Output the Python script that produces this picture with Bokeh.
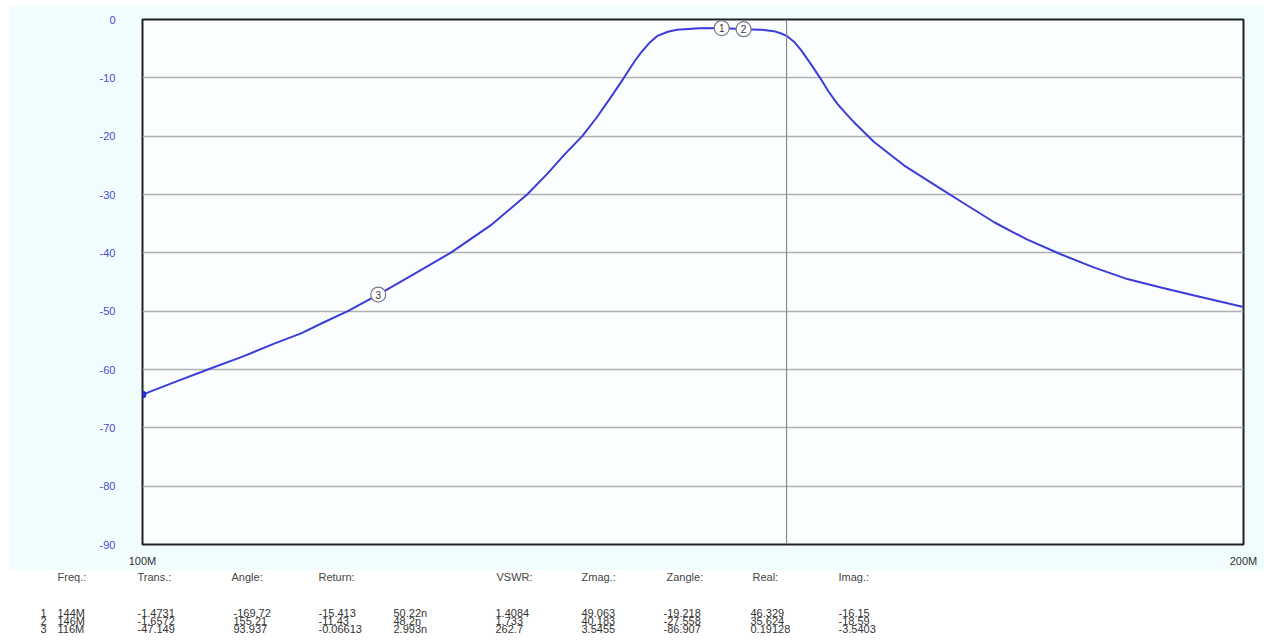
from bokeh.plotting import figure
from bokeh.models import FixedTicker, Span, ColumnDataSource, Spacer
from bokeh.layouts import column, row
from bokeh.embed import file_html
from bokeh.resources import INLINE
from bokeh.core.properties import value

# ---- data ----
freq_mhz = [100, 102, 104.2, 106.5, 108.6, 110.5, 112.1, 113.8, 116, 118.6, 121.4, 124.5,
            127.4, 129.0, 130.5, 131.9, 133.1, 134.3, 135.4, 136.3, 136.9, 137.6, 138.3,
            139.2, 140, 142, 144, 146, 147.6, 148.8, 149.5, 150, 150.7, 151.4, 152.3,
            153.2, 154.0, 154.9, 155.7, 156.5, 158.5, 161.5, 164.9, 168, 171, 174.5,
            178.2, 182, 185.9, 190, 193.9, 200]
trans_db = [-64.3, -62.2, -60.0, -57.8, -55.6, -53.8, -51.9, -50.0, -47.15, -43.7, -40.0, -35.3,
            -30.0, -26.5, -23.0, -20.0, -16.8, -13.3, -10.0, -7.2, -5.6, -4.0, -2.8,
            -2.1, -1.75, -1.52, -1.47, -1.66, -1.75, -2.0, -2.4, -2.8, -3.8, -5.3, -7.6,
            -10.0, -12.3, -14.5, -16.1, -17.6, -21.0, -25.0, -28.6, -31.8, -34.8, -37.7,
            -40.2, -42.5, -44.5, -46.0, -47.3, -49.3]

y_ticks = [0, -10, -20, -30, -40, -50, -60, -70, -80, -90]
y_tick_labels = ["0", "-10", "-20", "-30", "-40", "-50", "-60", "-70", "-80", "-90"]
x_ticks = [100, 200]
x_tick_labels = ["100M", "200M"]

marker_ids = ["1", "2", "3"]
marker_freq = [144, 146, 116]
marker_trans = [-1.4731, -1.6572, -47.149]
cursor_freq = 150

headers = ["Freq.:", "Trans.:", "Angle:", "Return:", "", "VSWR:", "Zmag.:", "Zangle:", "Real:", "Imag.:"]
col_freq = ["144M", "146M", "116M"]
col_trans = ["-1.4731", "-1.6572", "-47.149"]
col_angle = ["-169.72", "155.21", "93.937"]
col_return = ["-15.413", "-11.43", "-0.06613"]
col_delay = ["50.22n", "48.2n", "2.993n"]
col_vswr = ["1.4084", "1.733", "262.7"]
col_zmag = ["49.063", "40.183", "3.5455"]
col_zangle = ["-19.218", "-27.558", "-86.907"]
col_real = ["46.329", "35.624", "0.19128"]
col_imag = ["-16.15", "-18.59", "-3.5403"]

FONT = "Liberation Sans"

# ---- main chart ----
p = figure(width=1256, height=565, x_axis_type="log", x_range=(100, 200), y_range=(-90, 0),
           output_backend="svg", toolbar_location=None,
           min_border_left=134, min_border_right=21, min_border_top=14, min_border_bottom=26)
p.border_fill_color = "#F1FCFE"
p.background_fill_color = "#FBFEFF"
p.outline_line_color = "#222222"
p.outline_line_width = 2

p.xgrid.visible = False
p.ygrid.grid_line_color = "#AFAFAF"
p.ygrid.grid_line_width = 1.5

p.yaxis.ticker = FixedTicker(ticks=y_ticks)
p.yaxis.major_label_overrides = {t: l for t, l in zip(y_ticks, y_tick_labels)}
p.yaxis.axis_line_color = None
p.yaxis.major_tick_line_color = None
p.yaxis.minor_tick_line_color = None
p.yaxis.major_tick_out = 0
p.yaxis.major_tick_in = 0
p.yaxis.minor_tick_out = 0
p.yaxis.major_label_standoff = 27
p.yaxis.major_label_text_color = "#4B4BC8"
p.yaxis.major_label_text_font = FONT
p.yaxis.major_label_text_font_size = "11px"

p.xaxis.ticker = FixedTicker(ticks=x_ticks)
p.xaxis.major_label_overrides = {t: l for t, l in zip(x_ticks, x_tick_labels)}
p.xaxis.axis_line_color = None
p.xaxis.major_tick_line_color = None
p.xaxis.minor_tick_line_color = None
p.xaxis.major_tick_out = 0
p.xaxis.major_tick_in = 0
p.xaxis.minor_tick_out = 0
p.xaxis.major_label_standoff = 10
p.xaxis.major_label_text_color = "#333333"
p.xaxis.major_label_text_font = FONT
p.xaxis.major_label_text_font_size = "11px"

p.add_layout(Span(location=cursor_freq, dimension="height", line_color="#8A8A8A", line_width=1.2))

p.line(freq_mhz, trans_db, line_color="#3C3CD8", line_width=2)
p.scatter([freq_mhz[0]], [trans_db[0]], size=7, color="#2A2AE0")

msrc = ColumnDataSource(dict(x=marker_freq, y=marker_trans, t=marker_ids))
p.scatter("x", "y", source=msrc, size=15, fill_color="#FFFFFF", line_color="#7A7A8A", line_width=1.2)
p.text("x", "y", text="t", source=msrc, text_align="center", text_baseline="middle",
       text_font=value(FONT), text_font_size="10px", text_color="#333333")

top = row(Spacer(width=8, height=570), column(Spacer(width=1256, height=5), p, spacing=0), spacing=0)

# ---- table below (separate root, page coordinates) ----
t = figure(width=1264, height=70, x_range=(0, 1264), y_range=(70, 0),
           output_backend="svg", toolbar_location=None,
           min_border=0, min_border_left=0, min_border_right=0, min_border_top=0, min_border_bottom=0)
t.axis.visible = False
t.grid.visible = False
t.outline_line_color = None
t.background_fill_color = "#FFFFFF"
t.border_fill_color = "#FFFFFF"

hdr_x = [57, 137, 231, 318, 393, 496, 581, 666, 752, 838]
val_x = [57, 137, 233, 318, 393, 495, 581, 663, 750, 838]
hdr_src = ColumnDataSource(dict(x=hdr_x, y=[6] * len(hdr_x), t=headers))
t.text("x", "y", text="t", source=hdr_src, text_baseline="middle", text_align="left",
       text_font=value(FONT), text_font_size="11px", text_color="#444444")

row_y = [42, 50, 58]
columns = [col_freq, col_trans, col_angle, col_return, col_delay, col_vswr,
           col_zmag, col_zangle, col_real, col_imag]
xs, ys, ts = [], [], []
for i, rid in enumerate(marker_ids):
    xs.append(40); ys.append(row_y[i]); ts.append(rid)
    for cx, colvals in zip(val_x, columns):
        xs.append(cx); ys.append(row_y[i]); ts.append(colvals[i])
row_src = ColumnDataSource(dict(x=xs, y=ys, t=ts))
t.text("x", "y", text="t", source=row_src, text_baseline="middle", text_align="left",
       text_font=value(FONT), text_font_size="11px", text_color="#333333")

open("out.html", "w").write(file_html([top, t], INLINE))
